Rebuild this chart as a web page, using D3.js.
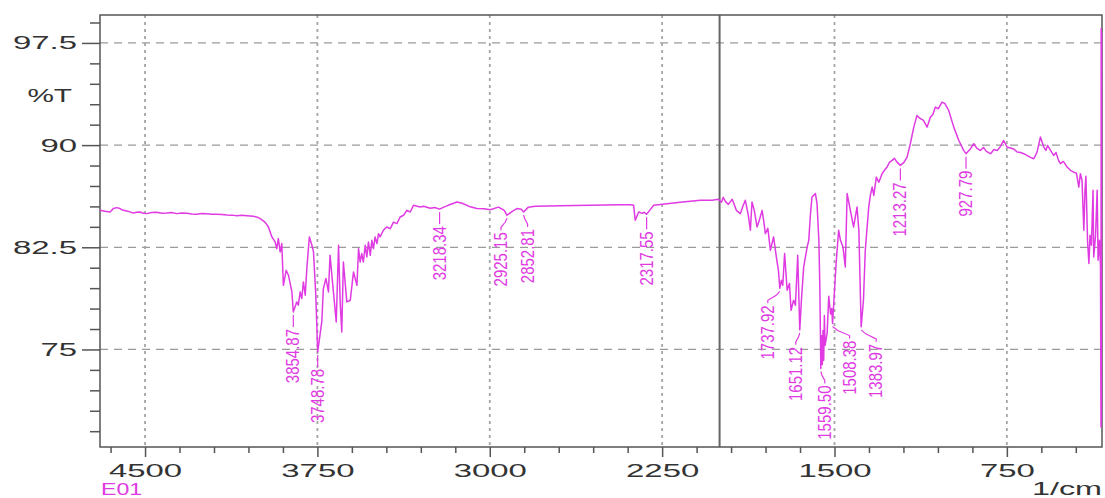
<!DOCTYPE html>
<html>
<head>
<meta charset="utf-8">
<script src="https://cdn.jsdelivr.net/npm/d3@7"></script>
<style>
  body { margin: 0; background: #fff; }
  svg { display: block; font-family: "Liberation Sans", Arial, sans-serif; }
</style>
</head>
<body>
<script>
// spectrum (1/cm, %T)
const wavenumbers = [
  4696, 4675, 4652, 4638, 4623, 4609, 4595, 4580, 4565, 4551, 4536, 4522, 4507, 4493, 4471, 4449,
  4427, 4406, 4384, 4362, 4340, 4318, 4297, 4275, 4253, 4231, 4209, 4188, 4166, 4144, 4122, 4101,
  4079, 4057, 4028, 4010, 3999, 3978, 3963, 3948, 3934, 3927, 3920, 3912, 3905, 3898, 3886, 3876,
  3861, 3854.87, 3840, 3833, 3825, 3818, 3811, 3803, 3796, 3785, 3774, 3767, 3757, 3748.78, 3731, 3724,
  3713, 3702, 3695, 3683, 3668, 3658, 3651, 3644, 3637, 3622, 3607, 3593, 3578, 3571, 3564, 3557,
  3550, 3542, 3535, 3528, 3520, 3513, 3506, 3499, 3491, 3484, 3477, 3463, 3448, 3433, 3419, 3404,
  3390, 3375, 3361, 3346, 3332, 3303, 3288, 3259, 3240, 3218.34, 3200, 3181, 3143, 3120, 3085, 3056,
  3024, 2998, 2962, 2937, 2925.15, 2902, 2882, 2863, 2852.81, 2833, 2802, 2693, 2563, 2432, 2389, 2374,
  2367, 2352, 2336, 2328, 2317.55, 2300, 2287, 2229, 2171, 2084, 2032, 2006, 1992, 1984, 1975, 1962,
  1945, 1927, 1910, 1897, 1888, 1875, 1866, 1859, 1849, 1837, 1827, 1815, 1807, 1801, 1790, 1779,
  1765, 1753, 1744, 1737.92, 1731, 1725, 1717, 1706, 1696, 1689, 1678, 1670, 1660, 1651.12, 1644, 1634,
  1619, 1612, 1605, 1598, 1583, 1576, 1568, 1564, 1561.5, 1559.5, 1556, 1553, 1550, 1547, 1544, 1541,
  1532, 1525, 1517, 1512, 1508.38, 1493, 1482, 1474, 1463, 1453, 1445, 1431, 1417, 1402, 1394, 1383.97,
  1374, 1366, 1351, 1344, 1336, 1329, 1318, 1307, 1293, 1283, 1271, 1261, 1249, 1239, 1228, 1213.27,
  1198, 1184, 1170, 1155, 1141, 1133, 1126, 1113, 1097, 1083, 1072, 1061, 1048, 1032, 1020, 1003,
  981, 959, 938, 927.79, 908, 894, 880, 865, 852, 839, 821, 806, 791, 778, 764, 749,
  734, 721, 705, 691, 676, 663, 647, 633, 619, 604, 589, 580, 573, 560, 546, 536,
  525, 517, 504, 488, 473, 459, 447, 437, 430, 423, 415, 410, 406, 399, 393, 388,
  382, 375, 372, 364, 357, 353, 347, 342.5, 340.4, 339.6, 338.9, 338.2
];
const transmittance = [
  85.21, 85.15, 85.09, 85.34, 85.41, 85.34, 85.21, 85.16, 85.10, 85.01, 85.07, 85.09, 85.00, 84.97, 85.05, 85.07,
  85.00, 85.01, 85.06, 84.97, 85.02, 84.99, 84.95, 84.92, 84.98, 84.97, 84.93, 84.92, 84.90, 84.87, 84.86, 84.82,
  84.85, 84.82, 84.77, 84.70, 84.60, 84.35, 83.99, 83.26, 82.89, 82.40, 83.14, 82.16, 82.77, 79.71, 80.81, 80.45,
  79.22, 77.75, 78.49, 78.25, 79.22, 78.74, 79.96, 78.98, 80.94, 83.26, 82.65, 82.16, 78.98, 74.82, 77.02, 79.47,
  80.21, 79.22, 81.91, 79.71, 77.02, 82.65, 78.49, 76.29, 81.42, 78.49, 78.61, 80.69, 79.71, 82.40, 81.42, 82.04,
  81.42, 82.65, 81.79, 82.89, 81.91, 83.01, 82.40, 83.26, 82.77, 83.50, 83.26, 83.75, 83.99, 83.87, 84.35, 84.24,
  84.72, 84.85, 85.21, 85.09, 85.58, 85.45, 85.51, 85.36, 85.42, 85.30, 85.45, 85.58, 85.82, 85.73, 85.47, 85.34,
  85.32, 85.26, 85.45, 85.21, 84.85, 85.14, 85.34, 85.29, 85.09, 85.43, 85.51, 85.54, 85.58, 85.62, 85.62, 85.58,
  84.48, 85.09, 84.99, 85.07, 84.92, 85.30, 85.58, 85.70, 85.80, 85.95, 85.95, 86.02, 85.80, 86.17, 85.87, 85.65,
  86.02, 85.21, 84.97, 85.58, 85.95, 84.85, 83.75, 85.82, 85.21, 83.99, 84.48, 85.21, 84.33, 83.50, 83.89, 82.28,
  83.26, 81.79, 80.81, 79.49, 80.08, 79.71, 82.04, 79.35, 79.84, 77.88, 78.61, 78.25, 81.91, 76.44, 78.61, 81.06,
  82.52, 83.01, 84.85, 86.19, 86.44, 85.70, 83.01, 79.80, 76.50, 73.60, 76.00, 73.90, 76.40, 74.20, 77.50, 75.30,
  76.20, 78.90, 77.60, 78.00, 76.90, 81.31, 83.75, 83.01, 82.52, 81.06, 86.44, 85.21, 83.99, 85.45, 83.75, 76.66,
  78.61, 82.28, 85.45, 86.31, 86.92, 86.31, 87.65, 87.27, 87.90, 88.15, 88.39, 88.73, 88.88, 89.03, 88.75, 88.51,
  88.73, 89.12, 90.10, 91.32, 92.18, 92.03, 91.94, 91.81, 91.32, 92.05, 92.25, 92.79, 92.67, 93.15, 93.06, 92.54,
  91.32, 90.34, 89.61, 89.37, 89.74, 90.10, 89.76, 89.61, 89.83, 89.54, 89.37, 89.68, 89.61, 89.90, 90.34, 89.85,
  89.79, 89.72, 89.49, 89.46, 89.37, 89.24, 89.10, 89.00, 89.46, 90.59, 89.85, 89.61, 89.98, 89.61, 89.24, 89.46,
  88.88, 88.64, 88.80, 88.39, 88.15, 88.02, 87.93, 86.92, 87.90, 87.41, 83.75, 86.68, 87.71, 83.01, 81.31, 83.38,
  82.65, 86.68, 81.79, 83.38, 86.68, 81.55, 83.01, 81.06, 69.30, 98.56, 69.80, 98.30
];

// peak picks
const peakWaves = [3854.87, 3748.78, 3218.34, 2925.15, 2852.81, 2317.55, 1737.92, 1651.12, 1559.50, 1508.38, 1383.97, 1213.27, 927.79];
const peakLabels = ["3854.87", "3748.78", "3218.34", "2925.15", "2852.81", "2317.55", "1737.92", "1651.12", "1559.50", "1508.38", "1383.97", "1213.27", "927.79"];

const xTicks = [4500, 3750, 3000, 2250, 1500, 750];
const xTickLabels = ["4500", "3750", "3000", "2250", "1500", "750"];
const yTicks = [75, 82.5, 90, 97.5];
const yTickLabels = ["75", "82.5", "90", "97.5"];
const markerWave = 2000;

const width = 1105, height = 498;
const margin = { top: 15, right: 3, bottom: 51, left: 100 };
const pink = "#e03be3";

const x = d3.scaleLinear().domain([4696, 336]).range([margin.left, width - margin.right]);
const y = d3.scaleLinear().domain([67.84, 99.55]).range([height - margin.bottom, margin.top]);

const svg = d3.select("body").append("svg")
  .attr("width", width)
  .attr("height", height);

svg.append("rect").attr("width", width).attr("height", height).attr("fill", "#fff");

const plotL = margin.left, plotR = width - margin.right,
  plotT = margin.top, plotB = height - margin.bottom;

// grid
svg.append("g").selectAll("line")
  .data(yTicks).enter().append("line")
  .attr("x1", plotL).attr("x2", plotR)
  .attr("y1", d => y(d)).attr("y2", d => y(d))
  .attr("stroke", "#9a9a9a").attr("stroke-width", 1.2)
  .attr("stroke-dasharray", "8,6");

svg.append("g").selectAll("line")
  .data(xTicks).enter().append("line")
  .attr("x1", d => x(d)).attr("x2", d => x(d))
  .attr("y1", plotT).attr("y2", plotB)
  .attr("stroke", "#a5a5a5").attr("stroke-width", 1.8)
  .attr("stroke-dasharray", "3,4");

// cursor line
svg.append("line")
  .attr("x1", x(markerWave)).attr("x2", x(markerWave))
  .attr("y1", plotT).attr("y2", plotB)
  .attr("stroke", "#666").attr("stroke-width", 2);

// axes
var yMinor = d3.range(69, 99.1, 1.5).filter(v => yTicks.indexOf(v) < 0);
var xMinor = d3.range(450, 4651, 150).filter(v => xTicks.indexOf(v) < 0);

var gy = svg.append("g").attr("transform", "translate(" + plotL + ",0)");
gy.call(d3.axisLeft(y).tickValues(yTicks).tickSize(18).tickSizeOuter(0).tickPadding(5)
  .tickFormat((d, i) => yTickLabels[i]));
gy.append("g").call(d3.axisLeft(y).tickValues(yMinor).tickSize(10).tickSizeOuter(0).tickFormat(""));

var gx = svg.append("g").attr("transform", "translate(0," + plotB + ")");
gx.call(d3.axisBottom(x).tickValues(xTicks).tickSize(10).tickSizeOuter(0).tickPadding(7)
  .tickFormat((d, i) => xTickLabels[i]));
gx.append("g").call(d3.axisBottom(x).tickValues(xMinor).tickSize(6).tickSizeOuter(0).tickFormat(""));

svg.selectAll(".domain").remove();
svg.selectAll(".tick line").attr("stroke", "#555").attr("stroke-width", 1.5);
svg.selectAll(".tick text")
  .attr("fill", "#333")
  .style("font-size", "18.6px")
  .style("font-family", "'Liberation Sans', Arial, sans-serif");
gy.selectAll(".tick text").attr("x", -23 / 1.77).attr("transform", "scale(1.77,1)");
gx.selectAll(".tick text").attr("transform", "scale(1.77,1)");

// frame
svg.append("rect")
  .attr("x", plotL).attr("y", plotT)
  .attr("width", plotR - plotL).attr("height", plotB - plotT)
  .attr("fill", "none").attr("stroke", "#555").attr("stroke-width", 1.5);

// spectrum
var pts = wavenumbers.map((w, i) => [w, transmittance[i]]);
var line = d3.line().x(d => x(d[0])).y(d => y(d[1]));
svg.append("path")
  .datum(pts)
  .attr("d", line)
  .attr("fill", "none")
  .attr("stroke", pink)
  .attr("stroke-width", 1.5)
  .attr("stroke-linejoin", "round");

// peak labels
const labelShift = { "2925.15": -6, "2852.81": 4, "1737.92": -12, "1651.12": -4, "1559.50": 4, "1508.38": 17, "1383.97": 15 };

var lab = svg.append("g");
peakWaves.forEach(function (w, i) {
  var t = transmittance[d3.minIndex(wavenumbers, v => Math.abs(v - w))];
  var px = x(w), py = y(t);
  var sh = labelShift[peakLabels[i]] || 0;
  var lx = px + sh;
  var top = py + 3, bot = py + 15;
  var path = sh === 0
    ? "M" + px + "," + top + "L" + px + "," + bot
    : "M" + px + "," + top + "L" + (px + sh * 0.3) + "," + (top + 4) + "L" + lx + "," + (bot - 3) + "L" + lx + "," + bot;
  lab.append("path").attr("d", path).attr("fill", "none")
    .attr("stroke", pink).attr("stroke-width", 1.2);
  lab.append("text")
    .attr("transform", "translate(" + lx + "," + (bot + 2) + ") rotate(-90) scale(1,1.25)")
    .attr("text-anchor", "end")
    .attr("dominant-baseline", "central")
    .attr("fill", pink)
    .style("font-size", "15px")
    .text(peakLabels[i]);
});

// titles
svg.append("text")
  .attr("transform", "translate(72,101.5) scale(1.6,1)")
  .attr("text-anchor", "end")
  .attr("fill", "#333")
  .style("font-size", "18.6px")
  .text("%T");

svg.append("text")
  .attr("transform", "translate(1102,495) scale(1.74,1)")
  .attr("text-anchor", "end")
  .attr("fill", "#333")
  .style("font-size", "18.6px")
  .text("1/cm");

svg.append("text")
  .attr("transform", "translate(101,495) scale(1.36,1)")
  .attr("fill", pink)
  .style("font-size", "17px")
  .text("E01");
</script>
</body>
</html>
